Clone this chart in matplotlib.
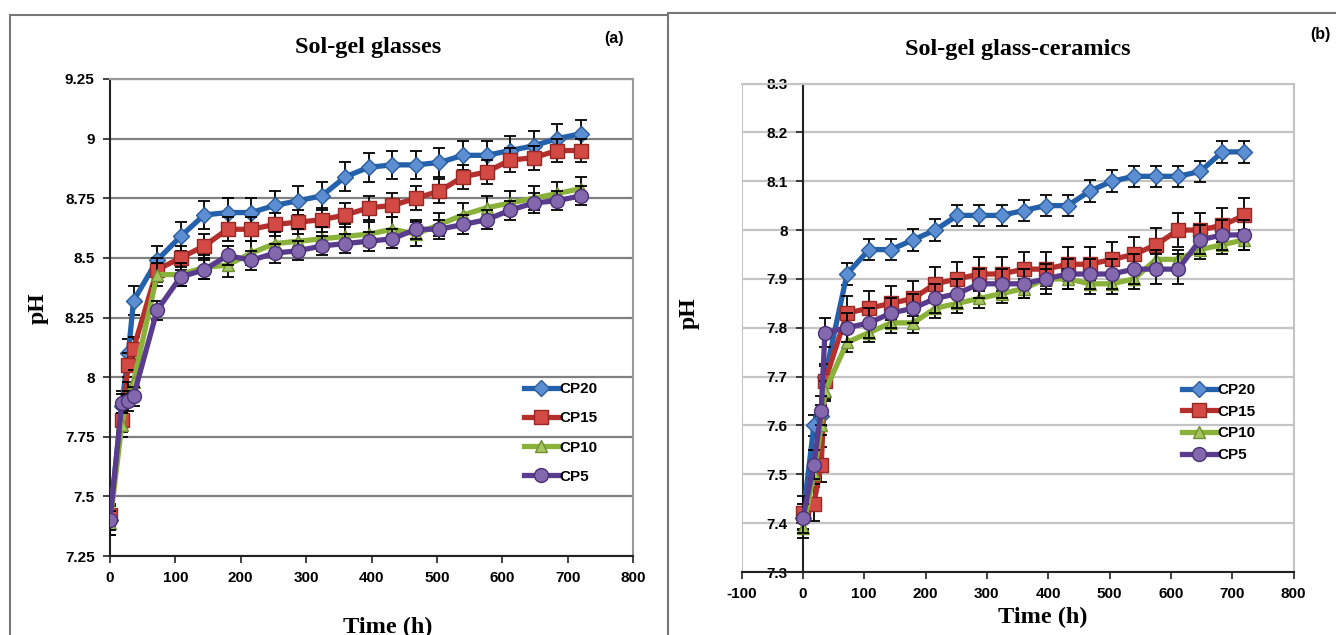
import matplotlib
matplotlib.use("Agg")
import matplotlib.pyplot as plt
from matplotlib.patches import Rectangle
from matplotlib.lines import Line2D

plt.rcParams["axes.unicode_minus"] = False

# ---------------- data ----------------
series_names = ["CP20", "CP15", "CP10", "CP5"]

time_a = [0, 18, 28, 36, 72, 108, 144, 180, 216, 252, 288, 324, 360, 396, 432,
          468, 504, 540, 576, 612, 648, 684, 720]
cp20_a = [7.40, 7.88, 8.10, 8.32, 8.49, 8.59, 8.68, 8.69, 8.69, 8.72, 8.74, 8.76,
          8.84, 8.88, 8.89, 8.89, 8.90, 8.93, 8.93, 8.95, 8.97, 9.00, 9.02]
cp15_a = [7.42, 7.82, 8.05, 8.12, 8.45, 8.50, 8.55, 8.62, 8.62, 8.64, 8.65, 8.66,
          8.68, 8.71, 8.72, 8.75, 8.78, 8.84, 8.86, 8.91, 8.92, 8.95, 8.95]
cp10_a = [7.39, 7.80, 7.93, 7.98, 8.43, 8.43, 8.46, 8.47, 8.52, 8.56, 8.57, 8.58,
          8.59, 8.60, 8.62, 8.60, 8.64, 8.68, 8.71, 8.73, 8.75, 8.77, 8.79]
cp5_a = [7.40, 7.89, 7.90, 7.92, 8.28, 8.42, 8.45, 8.51, 8.49, 8.52, 8.53, 8.55,
         8.56, 8.57, 8.58, 8.62, 8.62, 8.64, 8.66, 8.70, 8.73, 8.74, 8.76]
err_a = [0.06, 0.05, 0.05, 0.04]

time_b = [0, 18, 30, 36, 72, 108, 144, 180, 216, 252, 288, 324, 360, 396, 432,
          468, 504, 540, 576, 612, 648, 684, 720]
cp20_b = [7.41, 7.60, 7.62, 7.70, 7.91, 7.96, 7.96, 7.98, 8.00, 8.03, 8.03, 8.03,
          8.04, 8.05, 8.05, 8.08, 8.10, 8.11, 8.11, 8.11, 8.12, 8.16, 8.16]
cp15_b = [7.42, 7.44, 7.52, 7.69, 7.83, 7.84, 7.85, 7.86, 7.89, 7.90, 7.91, 7.91,
          7.92, 7.92, 7.93, 7.93, 7.94, 7.95, 7.97, 8.00, 8.00, 8.01, 8.03]
cp10_b = [7.39, 7.50, 7.60, 7.67, 7.77, 7.79, 7.81, 7.81, 7.84, 7.85, 7.86, 7.87,
          7.88, 7.90, 7.90, 7.89, 7.89, 7.90, 7.94, 7.94, 7.96, 7.97, 7.98]
cp5_b = [7.41, 7.52, 7.63, 7.79, 7.80, 7.81, 7.83, 7.84, 7.86, 7.87, 7.89, 7.89,
         7.89, 7.90, 7.91, 7.91, 7.91, 7.92, 7.92, 7.92, 7.98, 7.99, 7.99]
err_b = [0.022, 0.035, 0.02, 0.03]

yticks_a = [7.25, 7.5, 7.75, 8, 8.25, 8.5, 8.75, 9, 9.25]
ytick_labels_a = ["7.25", "7.5", "7.75", "8", "8.25", "8.5", "8.75", "9", "9.25"]
xticks_a = [0, 100, 200, 300, 400, 500, 600, 700, 800]
yticks_b = [7.3, 7.4, 7.5, 7.6, 7.7, 7.8, 7.9, 8.0, 8.1, 8.2, 8.3]
ytick_labels_b = ["7.3", "7.4", "7.5", "7.6", "7.7", "7.8", "7.9", "8", "8.1", "8.2", "8.3"]
xticks_b = [-100, 0, 100, 200, 300, 400, 500, 600, 700, 800]

# ---------------- style ----------------
line_colors = ["#2461AC", "#B5302D", "#8AB13A", "#5A3C8E"]
face_colors = ["#5B8ED2", "#D24A43", "#A3C45E", "#8468AE"]
edge_colors = ["#2A5C9A", "#962825", "#6F8F30", "#4A3275"]
markers = ["D", "s", "^", "o"]
msizes = [8.5, 10, 9, 10]

W, H = 1336, 635
fig = plt.figure(figsize=(W / 100, H / 100), dpi=100)
fig.patch.set_facecolor("white")


def fx(px):
    return px / W


def fy(py):
    return 1 - py / H


serif = ["Liberation Serif", "DejaVu Serif"]
sans = ["Liberation Sans", "DejaVu Sans"]

# panel frames
fig.add_artist(Rectangle((fx(10), fy(700)), fx(668) - fx(10), fy(15) - fy(700),
                         transform=fig.transFigure, fill=False, edgecolor="#777777",
                         linewidth=1.5))
fig.add_artist(Line2D([fx(668), 1.0], [fy(13), fy(13)], transform=fig.transFigure,
                      color="#777777", linewidth=1.5))

ax1 = fig.add_axes([fx(110), fy(556), fx(633) - fx(110), fy(79) - fy(556)])
ax2 = fig.add_axes([fx(741.5), fy(572), fx(1293.5) - fx(741.5), fy(83.5) - fy(572)])


def draw(ax, t, ys, errs):
    for i, (y, e) in enumerate(zip(ys, errs)):
        ax.errorbar(t, y, yerr=e, fmt="none", ecolor="black", elinewidth=1.3,
                    capsize=4, capthick=1.3, zorder=3 + 2 * i)
        ax.plot(t, y, color=line_colors[i], linewidth=3.8, marker=markers[i],
                markersize=msizes[i], markerfacecolor=face_colors[i],
                markeredgecolor=edge_colors[i], markeredgewidth=1.0,
                label=series_names[i], zorder=4 + 2 * i, solid_joinstyle="round")


def style_ticks(ax):
    ax.tick_params(axis="both", direction="out", length=5, width=1.2,
                   color="#222222", labelsize=11, pad=6)
    for lab in ax.get_xticklabels() + ax.get_yticklabels():
        lab.set_fontweight("bold")
        lab.set_family(sans)


# ---------- panel (a) ----------
draw(ax1, time_a, [cp20_a, cp15_a, cp10_a, cp5_a], err_a)
ax1.set_xlim(0, 800)
ax1.set_ylim(7.25, 9.25)
ax1.set_yticks(yticks_a)
ax1.set_yticklabels(ytick_labels_a)
ax1.set_xticks(xticks_a)
ax1.grid(axis="y", color="#808080", linewidth=1.6, zorder=0)
ax1.set_axisbelow(True)
for s in ["top", "right"]:
    ax1.spines[s].set_color("#9a9a9a")
    ax1.spines[s].set_linewidth(1.5)
for s in ["left", "bottom"]:
    ax1.spines[s].set_color("#222222")
    ax1.spines[s].set_linewidth(1.5)
style_ticks(ax1)

fig.text(fx(368), fy(48), "Sol-gel glasses", ha="center", va="center",
         fontsize=17.5, fontweight="bold", family=serif)
fig.text(fx(614), fy(38), "(a)", ha="center", va="center", fontsize=11.5,
         fontweight="bold", family=sans)
fig.text(fx(38), fy(308), "pH", ha="center", va="center", rotation=90,
         fontsize=17, fontweight="bold", family=serif)
fig.text(fx(388), fy(627), "Time (h)", ha="center", va="center",
         fontsize=17.5, fontweight="bold", family=serif)

ax1.legend(loc="upper left", bbox_to_anchor=(fx(524), fy(382)),
           bbox_transform=fig.transFigure, frameon=False, numpoints=1,
           handlelength=2.2, handletextpad=0.1, labelspacing=1.0,
           borderpad=0, borderaxespad=0,
           prop={"family": sans, "weight": "bold", "size": 11})

# ---------- panel (b) ----------
draw(ax2, time_b, [cp20_b, cp15_b, cp10_b, cp5_b], err_b)
ax2.set_xlim(-100, 800)
ax2.set_ylim(7.3, 8.3)
ax2.set_yticks(yticks_b)
ax2.set_yticklabels(ytick_labels_b)
ax2.set_xticks(xticks_b)
ax2.grid(axis="y", color="#c4c4c4", linewidth=1.6, zorder=0)
ax2.set_axisbelow(True)
for s in ["top", "right"]:
    ax2.spines[s].set_color("#c4c4c4")
    ax2.spines[s].set_linewidth(1.5)
ax2.spines["left"].set_position(("data", 0))
ax2.spines["left"].set_color("#222222")
ax2.spines["left"].set_linewidth(1.5)
ax2.spines["bottom"].set_color("#222222")
ax2.spines["bottom"].set_linewidth(1.5)
ax2.axvline(-100, color="#c4c4c4", linewidth=1.5, zorder=0)
style_ticks(ax2)

fig.text(fx(1018), fy(49), "Sol-gel glass-ceramics", ha="center", va="center",
         fontsize=17.5, fontweight="bold", family=serif)
fig.text(fx(1320), fy(35), "(b)", ha="center", va="center", fontsize=11.5,
         fontweight="bold", family=sans)
fig.text(fx(689), fy(313), "pH", ha="center", va="center", rotation=90,
         fontsize=17, fontweight="bold", family=serif)
fig.text(fx(1043), fy(617), "Time (h)", ha="center", va="center",
         fontsize=17.5, fontweight="bold", family=serif)

ax2.legend(loc="upper left", bbox_to_anchor=(fx(1182), fy(383)),
           bbox_transform=fig.transFigure, frameon=False, numpoints=1,
           handlelength=2.2, handletextpad=0.1, labelspacing=0.5,
           borderpad=0, borderaxespad=0,
           prop={"family": sans, "weight": "bold", "size": 11})

fig.savefig("out.png", dpi=100, facecolor="white")
